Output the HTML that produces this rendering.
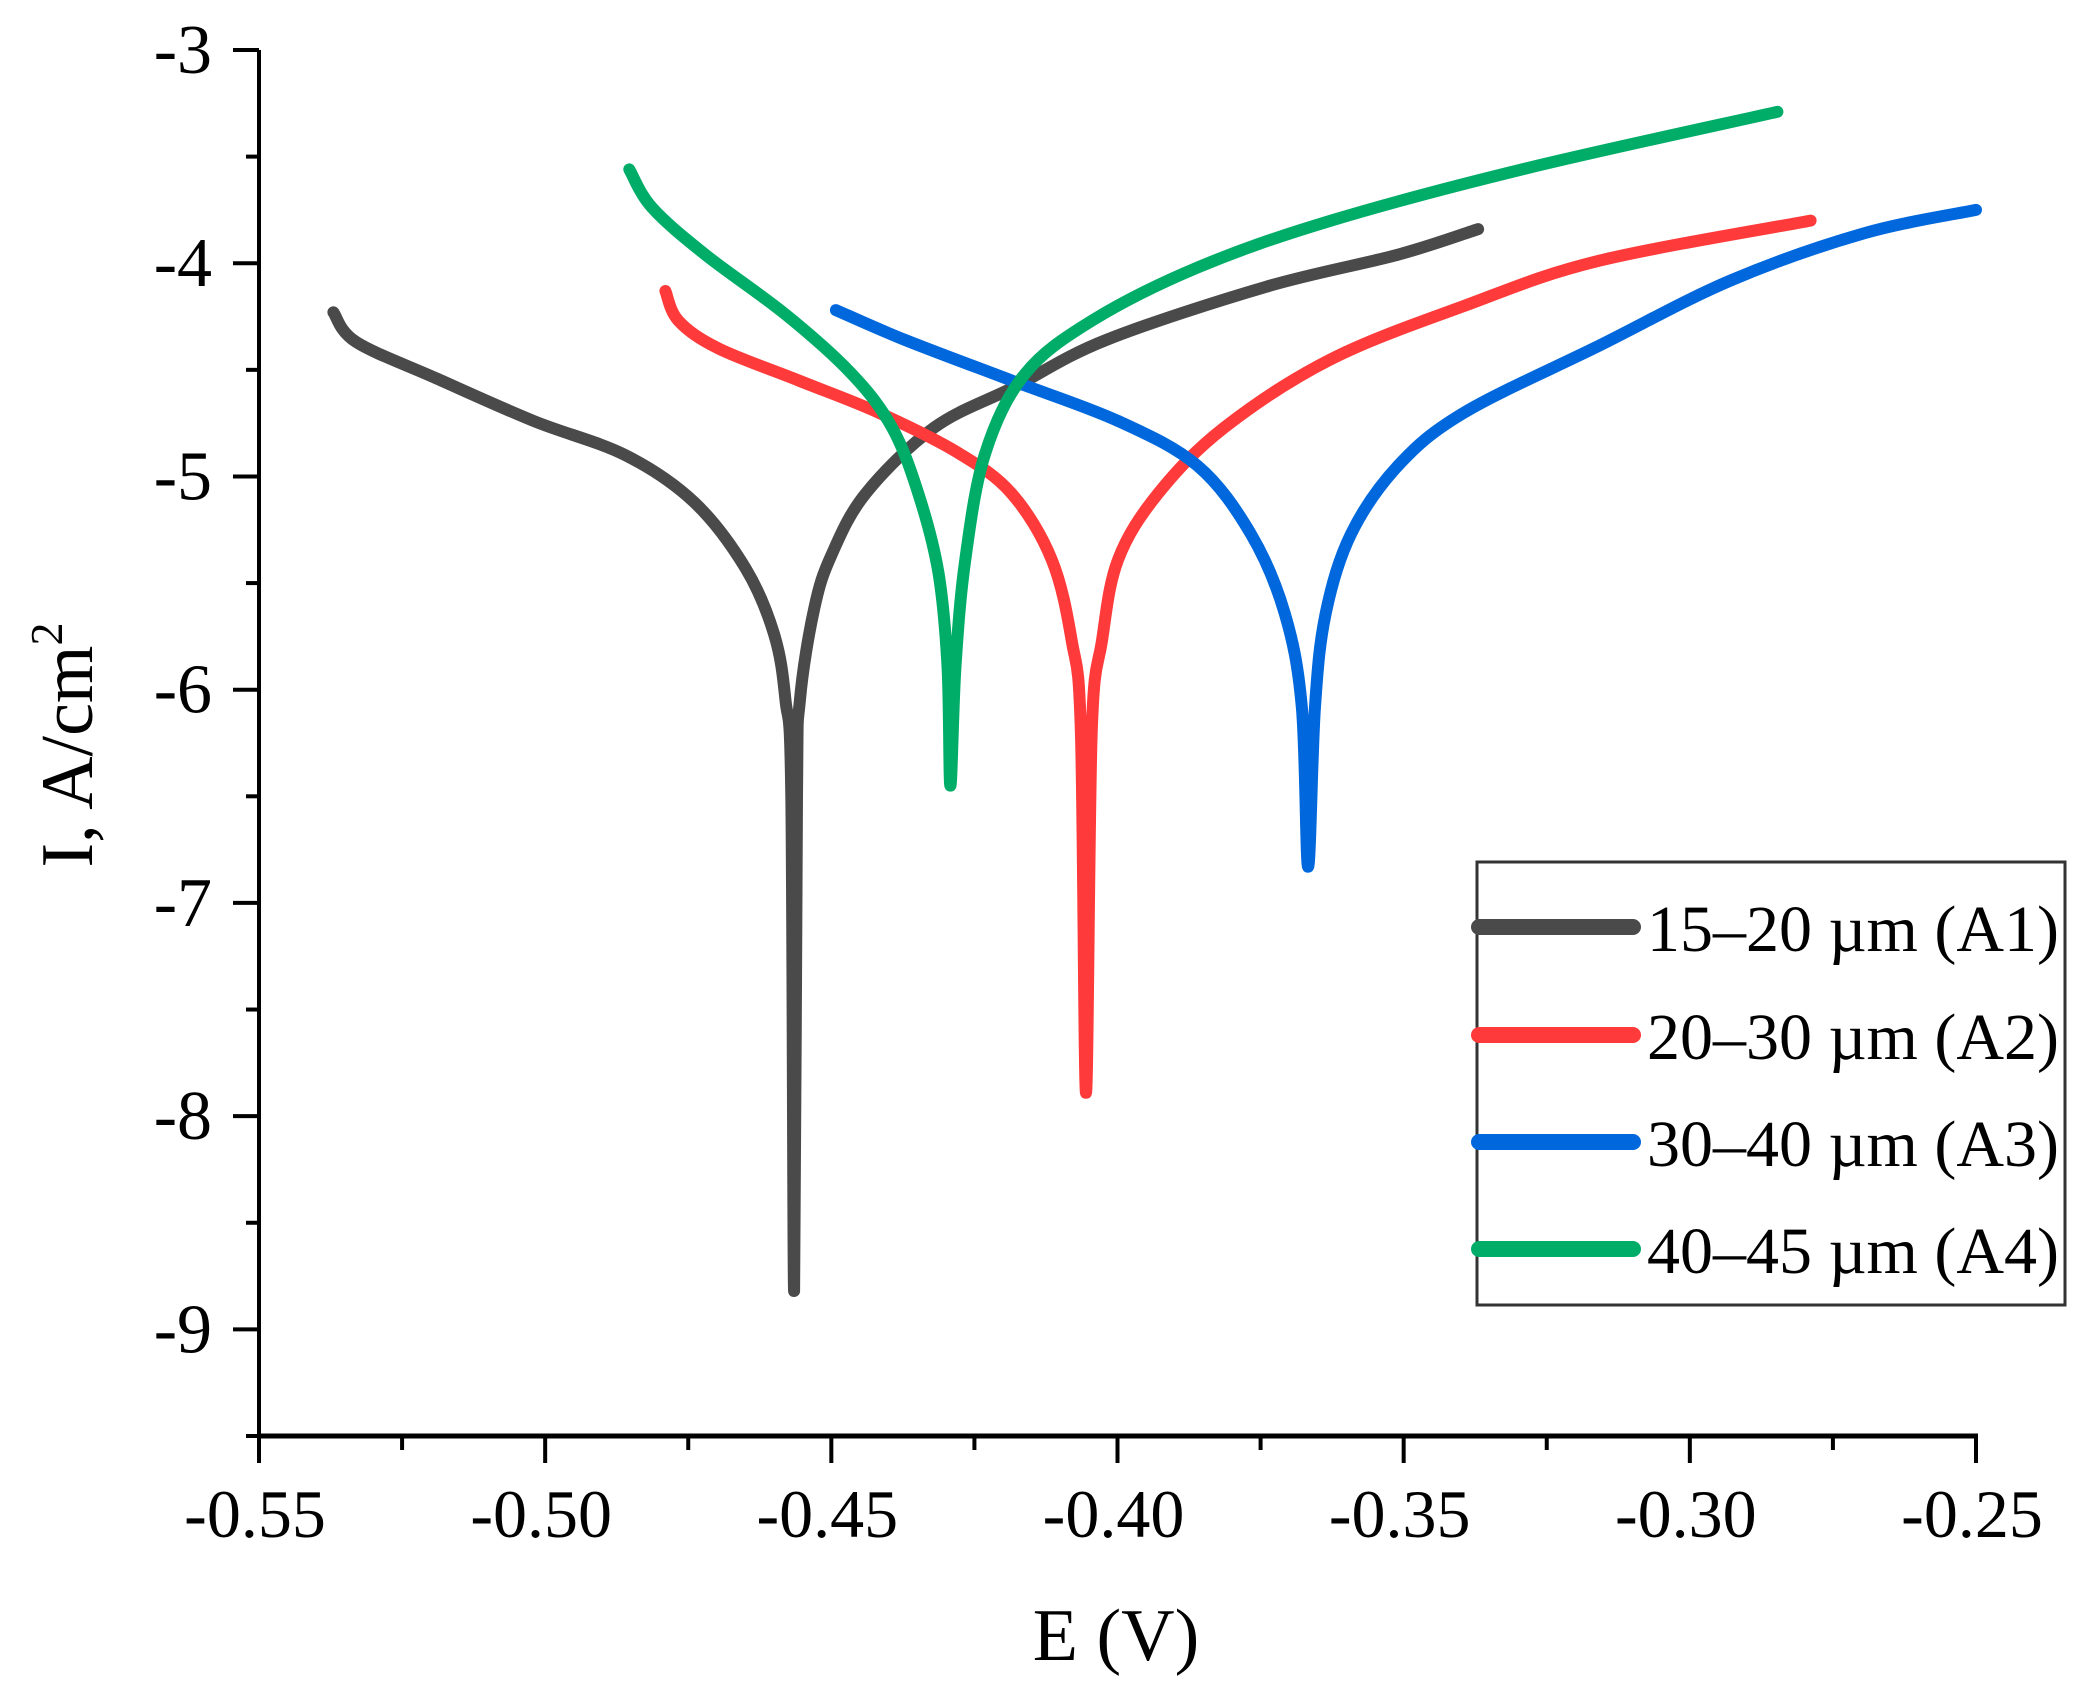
<!DOCTYPE html>
<html><head><meta charset="utf-8"><style>
html,body{margin:0;padding:0;background:#fff;}
svg{display:block;font-family:"Liberation Serif",serif;}
</style></head><body>
<svg id="chart" width="2088" height="1702" viewBox="0 0 2088 1702">
<g id="axes"></g>
<g id="series"></g>
<text x="1116" y="1660" font-size="74" text-anchor="middle">E (V)</text>
<text transform="translate(92,745) rotate(-90)" font-size="74" text-anchor="middle">I, A/cm<tspan font-size="46" dy="-30">2</tspan></text>
<g>
<rect x="1477" y="862" width="588" height="443" fill="#fff" stroke="#333" stroke-width="3"/>
<g id="legend-items"></g>
</g>
</svg>
<script>
const xTicks=[-0.55,-0.50,-0.45,-0.40,-0.35,-0.30,-0.25];
const xTickLabels=["-0.55","-0.50","-0.45","-0.40","-0.35","-0.30","-0.25"];
const yTicks=[-3,-4,-5,-6,-7,-8,-9];
const yTickLabels=["-3","-4","-5","-6","-7","-8","-9"];
const seriesNames=["15–20 µm (A1)","20–30 µm (A2)","30–40 µm (A3)","40–45 µm (A4)"];
const seriesColors=["#4a4a4a","#ff3a3a","#0068dc","#00ad68"];
const a1E=[-0.537,-0.533,-0.519,-0.502,-0.486,-0.474,-0.465,-0.460,-0.458,-0.457,-0.4565,-0.4560,-0.4555,-0.453,-0.450,-0.444,-0.432,-0.418,-0.402,-0.374,-0.351,-0.337];
const a1I=[-4.23,-4.37,-4.54,-4.74,-4.90,-5.12,-5.43,-5.74,-6.05,-6.5,-8.82,-6.5,-6.05,-5.62,-5.37,-5.08,-4.77,-4.58,-4.36,-4.11,-3.96,-3.84];
const a2E=[-0.479,-0.4767,-0.4697,-0.4557,-0.4418,-0.4278,-0.4185,-0.4115,-0.408,-0.4064,-0.4055,-0.4045,-0.4027,-0.3999,-0.3929,-0.3813,-0.3627,-0.3394,-0.3161,-0.2789];
const a2I=[-4.13,-4.27,-4.40,-4.55,-4.70,-4.89,-5.08,-5.39,-5.77,-6.2,-7.89,-6.2,-5.77,-5.39,-5.08,-4.77,-4.45,-4.20,-3.99,-3.80];
const a3E=[-0.4492,-0.4371,-0.4185,-0.3999,-0.386,-0.3767,-0.3708,-0.3678,-0.3667,-0.3655,-0.3636,-0.3592,-0.351,-0.3394,-0.3161,-0.2928,-0.2696,-0.25];
const a3I=[-4.22,-4.36,-4.55,-4.74,-4.95,-5.27,-5.64,-6.08,-6.83,-6.08,-5.64,-5.27,-4.95,-4.70,-4.39,-4.08,-3.86,-3.75];
const a4E=[-0.4853,-0.4813,-0.472,-0.458,-0.4464,-0.4394,-0.4348,-0.4313,-0.4297,-0.4292,-0.4283,-0.4266,-0.4231,-0.4162,-0.4045,-0.386,-0.3627,-0.3278,-0.2847];
const a4I=[-3.56,-3.74,-3.96,-4.24,-4.52,-4.77,-5.08,-5.45,-5.89,-6.45,-5.89,-5.39,-4.89,-4.52,-4.27,-4.02,-3.80,-3.55,-3.29];

const NS="http://www.w3.org/2000/svg";
const X0=259,X1=1976,Y0=50,Y1=1436;
const xMin=-0.55,xMax=-0.25,yMin=-9.5,yMax=-3;
function sx(v){return X0+(v-xMin)/(xMax-xMin)*(X1-X0);}
function sy(v){return Y1-(v-yMin)/(yMax-yMin)*(Y1-Y0);}
function mk(tag,attrs,parent){const e=document.createElementNS(NS,tag);for(const k in attrs)e.setAttribute(k,attrs[k]);parent.appendChild(e);return e;}
function smoothPath(p){
  let d='M'+p[0][0].toFixed(1)+','+p[0][1].toFixed(1);
  for(let i=0;i<p.length-1;i++){
    const p0=p[i-1]||p[i],p1=p[i],p2=p[i+1],p3=p[i+2]||p2;
    const t=1/6;
    const c1=[p1[0]+(p2[0]-p0[0])*t,p1[1]+(p2[1]-p0[1])*t];
    const c2=[p2[0]-(p3[0]-p1[0])*t,p2[1]-(p3[1]-p1[1])*t];
    d+=' C'+c1[0].toFixed(1)+','+c1[1].toFixed(1)+' '+c2[0].toFixed(1)+','+c2[1].toFixed(1)+' '+p2[0].toFixed(1)+','+p2[1].toFixed(1);
  }
  return d;
}
const axes=document.getElementById('axes');
const ya=mk('line',{x1:X0,y1:Y0,x2:X0,y2:Y1,stroke:'#000','stroke-width':4},axes);


const xa=mk('line',{x1:X0-2,y1:Y1,x2:X1+2,y2:Y1,stroke:'#000','stroke-width':5},axes);


for(let v=-3;v>=-9.5;v-=0.5){
  const major=Math.abs(v-Math.round(v))<1e-6;
  mk('line',{x1:X0-(major?26:13),y1:sy(v),x2:X0,y2:sy(v),stroke:'#000','stroke-width':4},axes);
}
for(let i=0;i<=12;i++){
  const v=xMin+i*0.025;const major=i%2===0;
  mk('line',{x1:sx(v),y1:Y1,x2:sx(v),y2:Y1+(major?27:14),stroke:'#000','stroke-width':4},axes);
}
yTicks.forEach((v,i)=>{
  const t=mk('text',{x:212,y:sy(v)+23,'font-size':70,'text-anchor':'end'},axes);
  t.textContent=yTickLabels[i];
  
  
});
xTicks.forEach((v,i)=>{
  const t=mk('text',{x:sx(v)-4,y:1537,'font-size':68,'text-anchor':'middle'},axes);
  t.textContent=xTickLabels[i];
  
  
});
const sE=[a1E,a2E,a3E,a4E],sI=[a1I,a2I,a3I,a4I];
const sg=document.getElementById('series');
[0,1,2,3].forEach(k=>{
  const pts=sE[k].map((e,i)=>[sx(e),sy(sI[k][i])]);
  const p=mk('path',{d:smoothPath(pts),fill:'none',stroke:seriesColors[k],'stroke-width':12,'stroke-linejoin':'round','stroke-linecap':'round'},sg);
  
  
});
const lg=document.getElementById('legend-items');
const rows=[927,1035,1142,1249];
seriesNames.forEach((n,k)=>{
  const l=mk('line',{x1:1479,y1:rows[k],x2:1633,y2:rows[k],stroke:seriesColors[k],'stroke-width':16,'stroke-linecap':'round'},lg);
  
  
  const t=mk('text',{x:1647,y:rows[k]+24,'font-size':66},lg);
  t.textContent=n;
  
  
});
</script>
</body></html>
